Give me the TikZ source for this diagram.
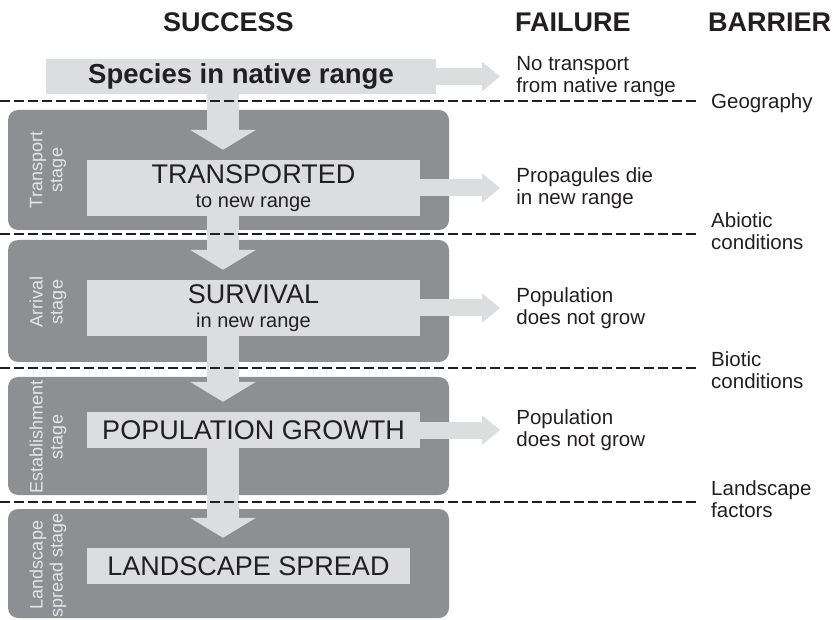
\documentclass[tikz,border=0pt]{standalone}
\usepackage{fontspec}
\setmainfont{Liberation Sans}
\usetikzlibrary{arrows.meta, positioning}

\definecolor{boxdark}{HTML}{8E8F93}
\definecolor{boxlight}{HTML}{DCDDDF}
\definecolor{inktext}{HTML}{231F20}
\definecolor{stagetext}{HTML}{E4E5E7}

\newcommand{\sublabel}[1]{{\fontsize{20}{24}\selectfont #1}}

\begin{document}
\begin{tikzpicture}[
    x=1pt, y=-1pt,
    stagebox/.style={fill=boxdark, rounded corners=10pt},
    stepbox/.style={fill=boxlight, inner sep=0pt, align=center, text=inktext, font=\fontsize{27}{24}\selectfont},
    stagelabel/.style={rotate=90, align=center, inner sep=0pt, text=stagetext, font=\fontsize{18}{20}\selectfont},
    failtext/.style={align=left, inner sep=0pt, text=inktext, font=\fontsize{20.5}{22}\selectfont},
    barriertext/.style={failtext, anchor=west},
    head/.style={inner sep=0pt, text=inktext, font=\bfseries\fontsize{27}{30}\selectfont},
    flowdown/.style={draw=boxlight, line width=32pt, -{Triangle[width=65pt, length=20pt]}, shorten >=10pt},
    flowright/.style={draw=boxlight, line width=17pt, -{Triangle[width=28pt, length=18pt]}, shorten >=16pt},
    barrierline/.style={draw=inktext, line width=2.8pt, dash pattern=on 10pt off 4pt}
]
\useasboundingbox (0,0) rectangle (833,620);

% stage panels
\foreach \top/\bot in {110/230, 240/362, 377/495, 509/618}
    \path[stagebox] (8,\top) rectangle (449,\bot);

% headers
\node[head] (hs) at (228.5,22) {SUCCESS};
\node[head, anchor=west] (hf) at (515,22) {FAILURE};
\node[head, anchor=west] (hb) at (708,22) {BARRIER};

% success column
\node[stepbox, minimum width=390pt, minimum height=35pt, font=\bfseries\fontsize{27.5}{28}\selectfont] (sp) at (241,76.5) {Species in native range};
\node[stepbox, minimum width=333pt, minimum height=56pt] (tr) at (253.5,188) {TRANSPORTED\\\sublabel{to new range}};
\node[stepbox, minimum width=333pt, minimum height=56pt] (su) at (253.5,308) {SURVIVAL\\\sublabel{in new range}};
\node[stepbox, minimum width=333pt, minimum height=36pt] (pg) at (253.5,430) {POPULATION GROWTH};
\node[stepbox, minimum width=323pt, minimum height=36pt] (ls) at (248.5,566) {LANDSCAPE SPREAD};

\coordinate (col) at (223,0);
\draw[flowdown] (sp.south -| col) -- (tr.north -| col);
\draw[flowdown] (tr.south -| col) -- (su.north -| col);
\draw[flowdown] (su.south -| col) -- (pg.north -| col);
\draw[flowdown] (pg.south -| col) -- (ls.north -| col);

% stage names
\node[stagelabel] (st1) at (48,170) {Transport\\stage};
\node[stagelabel] (st2) at (48,302) {Arrival\\stage};
\node[stagelabel] (st3) at (48,437) {Establishment\\stage};
\node[stagelabel] (st4) at (48,565) {Landscape\\spread stage};

% failure column
\node[failtext, right=80pt of sp] (f1) {No transport\\from native range};
\node[failtext, right=96pt of tr] (f2) {Propagules die\\in new range};
\node[failtext, right=96pt of su] (f3) {Population\\does not grow};
\node[failtext, right=96pt of pg] (f4) {Population\\does not grow};
\draw[flowright] (sp) -- (f1);
\draw[flowright] (tr) -- (f2);
\draw[flowright] (su) -- (f3);
\draw[flowright] (pg) -- (f4);

% barrier column
\node[barriertext] (b1) at (711,103) {Geography};
\node[barriertext] (b2) at (711,231) {Abiotic\\conditions};
\node[barriertext] (b3) at (711,370) {Biotic\\conditions};
\node[barriertext] (b4) at (711,499) {Landscape\\factors};
\foreach \y in {101,234,368,502}
    \draw[barrierline] (0,\y) -- (697,\y);
\end{tikzpicture}
\end{document}
